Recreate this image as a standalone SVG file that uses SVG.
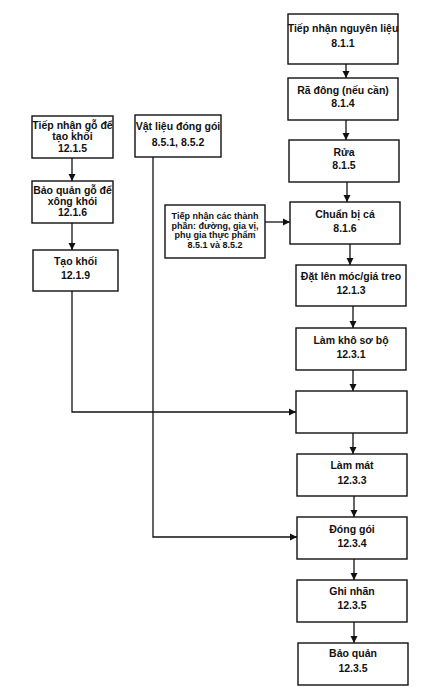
<svg xmlns="http://www.w3.org/2000/svg" width="448" height="690" viewBox="0 0 448 690">
<defs>
<style>
.b{fill:#fff;stroke:#111;stroke-width:1.4}
.t{font-family:"Liberation Sans",Arial,sans-serif;font-size:10.5px;font-weight:bold;fill:#111;text-anchor:middle}
.s{font-size:9px}
.c{fill:none;stroke:#111;stroke-width:1.3}
</style>
<marker id="a" markerWidth="8" markerHeight="8" refX="7" refY="4" orient="auto" markerUnits="userSpaceOnUse">
<path d="M0,0.5 L7,4 L0,7.5 Z" fill="#111"/>
</marker>
</defs>
<rect width="448" height="690" fill="#fff"/>
<g id="connectors">
<line class="c" x1="346" y1="64" x2="346" y2="78" marker-end="url(#a)"/>
<line class="c" x1="346" y1="120" x2="346" y2="140" marker-end="url(#a)"/>
<line class="c" x1="347" y1="182" x2="347" y2="202" marker-end="url(#a)"/>
<line class="c" x1="350" y1="244" x2="350" y2="265" marker-end="url(#a)"/>
<line class="c" x1="353" y1="306" x2="353" y2="328" marker-end="url(#a)"/>
<line class="c" x1="353" y1="370" x2="353" y2="391" marker-end="url(#a)"/>
<line class="c" x1="353" y1="433" x2="353" y2="454" marker-end="url(#a)"/>
<line class="c" x1="354" y1="496" x2="354" y2="517" marker-end="url(#a)"/>
<line class="c" x1="354" y1="559" x2="354" y2="580" marker-end="url(#a)"/>
<line class="c" x1="354" y1="622" x2="354" y2="643" marker-end="url(#a)"/>
<line class="c" x1="72" y1="158" x2="72" y2="181" marker-end="url(#a)"/>
<line class="c" x1="72" y1="223" x2="72" y2="250" marker-end="url(#a)"/>
<line class="c" x1="265" y1="222" x2="290" y2="222" marker-end="url(#a)"/>
<polyline class="c" points="72,291 72,412 296,412" marker-end="url(#a)"/>
<polyline class="c" points="153,157 153,537 297,537" marker-end="url(#a)"/>
</g>
<g id="n1"><rect class="b" x="288" y="14" width="110" height="50"/><text class="t" x="343" y="32">Tiếp nhận nguyên liệu</text><text class="t" x="343" y="47">8.1.1</text></g>
<g id="n2"><rect class="b" x="288" y="78" width="110" height="42"/><text class="t" x="343" y="94">Rã đông (nếu cần)</text><text class="t" x="343" y="107">8.1.4</text></g>
<g id="n3"><rect class="b" x="289" y="140" width="110" height="42"/><text class="t" x="344" y="156">Rửa</text><text class="t" x="344" y="169">8.1.5</text></g>
<g id="n4"><rect class="b" x="290" y="202" width="110" height="42"/><text class="t" x="345" y="218">Chuẩn bị cá</text><text class="t" x="345" y="232">8.1.6</text></g>
<g id="n5"><rect class="b" x="296" y="265" width="110" height="41"/><text class="t" x="351" y="280">Đặt lên móc/giá treo</text><text class="t" x="351" y="294">12.1.3</text></g>
<g id="n6"><rect class="b" x="296" y="328" width="110" height="42"/><text class="t" x="351" y="344">Làm khô sơ bộ</text><text class="t" x="351" y="358">12.3.1</text></g>
<g id="n7"><rect class="b" x="296" y="391" width="111" height="42"/></g>
<g id="n8"><rect class="b" x="297" y="454" width="110" height="42"/><text class="t" x="352" y="469">Làm mát</text><text class="t" x="352" y="484">12.3.3</text></g>
<g id="n9"><rect class="b" x="297" y="517" width="110" height="42"/><text class="t" x="352" y="533">Đóng gói</text><text class="t" x="352" y="547">12.3.4</text></g>
<g id="n10"><rect class="b" x="297" y="580" width="110" height="42"/><text class="t" x="352" y="595">Ghi nhãn</text><text class="t" x="352" y="609">12.3.5</text></g>
<g id="n11"><rect class="b" x="298" y="643" width="110" height="42"/><text class="t" x="353" y="657">Bảo quản</text><text class="t" x="353" y="672">12.3.5</text></g>
<g id="l1"><rect class="b" x="32" y="116" width="81" height="42"/><text class="t" x="72.5" y="129">Tiếp nhận gỗ để</text><text class="t" x="72.5" y="140">tạo khối</text><text class="t" x="72.5" y="152">12.1.5</text></g>
<g id="l2"><rect class="b" x="32" y="181" width="81" height="42"/><text class="t" x="72.5" y="194">Bảo quản gỗ để</text><text class="t" x="72.5" y="205">xông khói</text><text class="t" x="72.5" y="216">12.1.6</text></g>
<g id="l3"><rect class="b" x="33" y="250" width="85" height="41"/><text class="t" x="75.5" y="265">Tạo khối</text><text class="t" x="75.5" y="279">12.1.9</text></g>
<g id="m1"><rect class="b" x="135" y="115" width="86" height="42"/><text class="t" x="178" y="130">Vật liệu đóng gói</text><text class="t" x="178" y="146">8.5.1, 8.5.2</text></g>
<g id="m2"><rect class="b" x="165" y="205" width="100" height="53"/><text class="t s" x="215" y="218.5">Tiếp nhận các thành</text><text class="t s" x="215" y="228.5">phần: đường, gia vị,</text><text class="t s" x="215" y="238">phụ gia thực phẩm</text><text class="t s" x="215" y="247.5">8.5.1 và 8.5.2</text></g>
</svg>
